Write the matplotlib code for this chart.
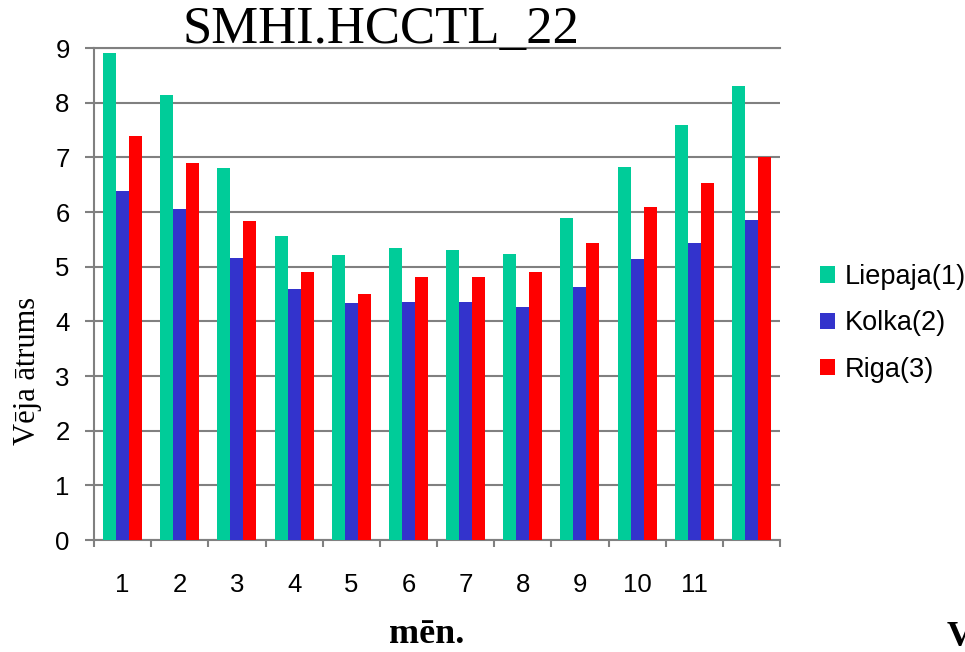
import matplotlib.pyplot as plt
import numpy as np

# monthly mean wind speed per station
months = ["1", "2", "3", "4", "5", "6", "7", "8", "9", "10", "11", ""]
liepaja = [8.91, 8.14, 6.80, 5.56, 5.21, 5.34, 5.30, 5.23, 5.89, 6.82, 7.59, 8.30]
kolka = [6.38, 6.05, 5.16, 4.59, 4.34, 4.35, 4.35, 4.26, 4.63, 5.14, 5.43, 5.85]
riga = [7.39, 6.90, 5.84, 4.90, 4.50, 4.81, 4.81, 4.90, 5.43, 6.09, 6.53, 7.00]
series_names = ["Liepaja(1)", "Kolka(2)", "Riga(3)"]
colors = ["#00CC99", "#3333CC", "#FF0000"]

GRAY = "#808080"

fig = plt.figure(figsize=(9.65, 6.52), dpi=100)
ax = fig.add_axes([94 / 965, 1 - 540 / 652, (780 - 94) / 965, (540 - 48) / 652])

x = np.arange(len(months))
width = 0.227
for i, (vals, name, col) in enumerate(zip([liepaja, kolka, riga], series_names, colors)):
    ax.bar(x + (i - 1) * width, vals, width, color=col, label=name, zorder=3)

ax.set_xlim(-0.5, len(months) - 0.5)
ax.set_ylim(0, 9)
ax.set_yticks(range(0, 10))
ax.yaxis.grid(True, color=GRAY, linewidth=1.5, zorder=0)

ax.spines["right"].set_visible(False)
for side in ["left", "bottom", "top"]:
    ax.spines[side].set_color(GRAY)
    ax.spines[side].set_linewidth(1.5)

# labels sit under group centres, tick marks between groups
ax.set_xticks(x)
ax.set_xticklabels(months)
ax.set_xticks(np.arange(-0.5, len(months)), minor=True)
ax.tick_params(axis="x", which="major", length=0, pad=24,
               labelsize=18.5, labelfontfamily="Liberation Sans")
ax.tick_params(axis="x", which="minor", length=5, width=1.5, color=GRAY,
               direction="out")
ax.tick_params(axis="y", length=6.5, width=1.5, color=GRAY, pad=11,
               labelsize=18.5, labelfontfamily="Liberation Sans")

fig.text(381 / 965, 1 - 30 / 652, "SMHI.HCCTL_22", family="Liberation Serif",
         fontsize=38, ha="center", va="center")
fig.text(28 / 965, 1 - 371 / 652, "Vēja ātrums", family="Liberation Serif",
         fontsize=22, rotation=90, ha="center", va="center")
fig.text(427 / 965, 1 - 651 / 652, "mēn.", family="Liberation Serif",
         fontsize=26, fontweight="bold", ha="center", va="bottom")
fig.text(947 / 965, 1 - 646 / 652, "V", family="Liberation Serif",
         fontsize=26, fontweight="bold", ha="left", va="baseline")

leg = fig.legend(loc="upper left", bbox_to_anchor=(820 / 965, 1 - 264 / 652),
                 frameon=False, prop={"family": "Liberation Sans", "size": 19.5},
                 handlelength=0.55, handleheight=0.55, handletextpad=0.35,
                 labelspacing=0.75, borderaxespad=0, borderpad=0)

fig.savefig("out.png", dpi=100)
